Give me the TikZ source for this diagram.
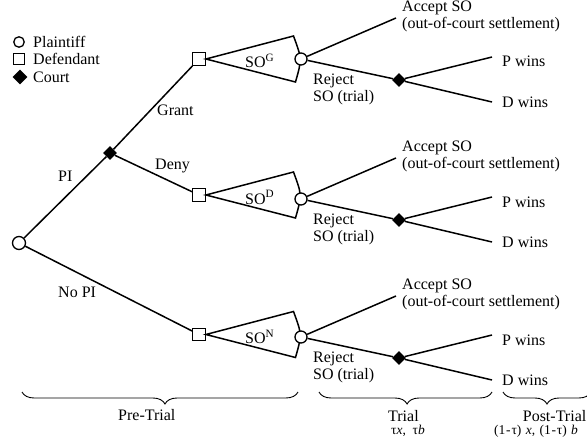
\documentclass[tikz,border=0pt]{standalone}
\usepackage{fontspec}
\setmainfont{Liberation Serif}
\usetikzlibrary{shapes.geometric,decorations.pathreplacing}
\begin{document}
\begin{tikzpicture}[x=1pt,y=-1pt,
  tree/.style={line width=1.5pt},
  pnode/.style={circle,draw,line width=1.3pt,fill=white,minimum size=12pt,inner sep=0pt},
  dnode/.style={rectangle,draw,line width=1.3pt,fill=white,minimum size=12.5pt,inner sep=0pt},
  cnode/.style={diamond,fill=black,minimum size=14pt,inner sep=0pt},
  lbl/.style={font=\fontsize{16}{18}\selectfont,inner sep=0pt,anchor=base west},
  small/.style={font=\fontsize{13.5}{15}\selectfont,inner sep=0pt,anchor=base west},
  bracestyle/.style={decorate,line width=0.9pt},
]
\useasboundingbox (0,0) rectangle (587,444);

% legend
\node[pnode,minimum size=10.5pt] (lp) at (19,42) {};
\node[dnode,minimum size=11pt] (ld) at (19,59) {};
\node[cnode,minimum size=15pt] (lc) at (20,77) {};
\node[lbl] (lpt) at (33,47.5) {Plaintiff};
\node[lbl] (ldt) at (33,65) {Defendant};
\node[lbl] (lct) at (33,82.5) {Court};

% root and court
\node[pnode,minimum size=13pt] (root) at (19,243) {};
\node[cnode] (court) at (110,153) {};

\foreach \b/\ys/\yc in {G/59/59,D/195/199,N/334.5/337}{
  \node[dnode] (sq\b) at (199,\ys) {};
  \coordinate (top\b) at (293.5,\ys-23);
  \coordinate (bot\b) at (295.5,\ys+23);
  \coordinate (ctl\b) at (302,\ys);
  \draw[tree,line join=miter] (sq\b.east) -- (top\b) .. controls (ctl\b) .. (bot\b) -- cycle;
  \node[pnode] (c\b) at (301,\yc) {};
  \node[cnode] (k\b) at (399,\yc+21) {};
  \coordinate (acc\b) at (396,\yc-41);
  \coordinate (pw\b) at (492,\yc-2);
  \coordinate (dw\b) at (492,\yc+43);
  \draw[tree] (c\b) -- (acc\b);
  \draw[tree] (c\b) -- (k\b);
  \draw[tree] (k\b) -- (pw\b);
  \draw[tree] (k\b) -- (dw\b);
  \node[lbl] (acct\b) at (402,\yc-47.5) {Accept SO};
  \node[lbl] (ocs\b) at (402,\yc-30.5) {(out-of-court settlement)};
  \node[lbl] (pwt\b) at (502,\yc+8) {P wins};
  \node[lbl] (dwt\b) at (502,\yc+48) {D wins};
  \node[lbl] (rej\b) at (313,\yc+25.5) {Reject};
  \node[lbl] (sot\b) at (313,\yc+42.5) {SO (trial)};
  \node[lbl] (so\b) at (245,\ys+9) {SO\textsuperscript{\b}};
}

\draw[tree] (root) -- (court);
\draw[tree] (court) -- (sqG);
\draw[tree] (court) -- (sqD);
\draw[tree] (root) -- (sqN);

\node[lbl] (grant) at (157,115) {Grant};
\node[lbl] (deny) at (155,169) {Deny};
\node[lbl] (pi) at (58,181) {PI};
\node[lbl] (nopi) at (58,297) {No PI};

% braces
\coordinate (preL) at (22,392);
\coordinate (preR) at (298,392);
\coordinate (triL) at (319,392);
\coordinate (triR) at (492,392);
\coordinate (posL) at (503,392);
\coordinate (posR) at (591,392);
\draw[bracestyle,decoration={brace,mirror,amplitude=12pt,aspect=0.518}] (preL) -- (preR);
\draw[bracestyle,decoration={brace,mirror,amplitude=12pt,aspect=0.509}] (triL) -- (triR);
\draw[bracestyle,decoration={brace,mirror,amplitude=12pt,aspect=0.5}] (posL) -- (posR);

\node[lbl] (pret) at (118,420) {Pre-Trial};
\node[lbl] (trit) at (388,421) {Trial};
\node[small] (trip) at (391,434) {τ\textit{x},\ \ τ\textit{b}};
\node[lbl,anchor=base east] (post) at (586.5,421) {Post-Trial};
\node[small] (posp) at (494,434) {(1\kern0.8pt-\kern0.8ptτ)\kern1pt\ \textit{x},\kern1pt\ (1\kern0.8pt-\kern0.8ptτ)\kern1pt\ \textit{b}};
\end{tikzpicture}
\end{document}
